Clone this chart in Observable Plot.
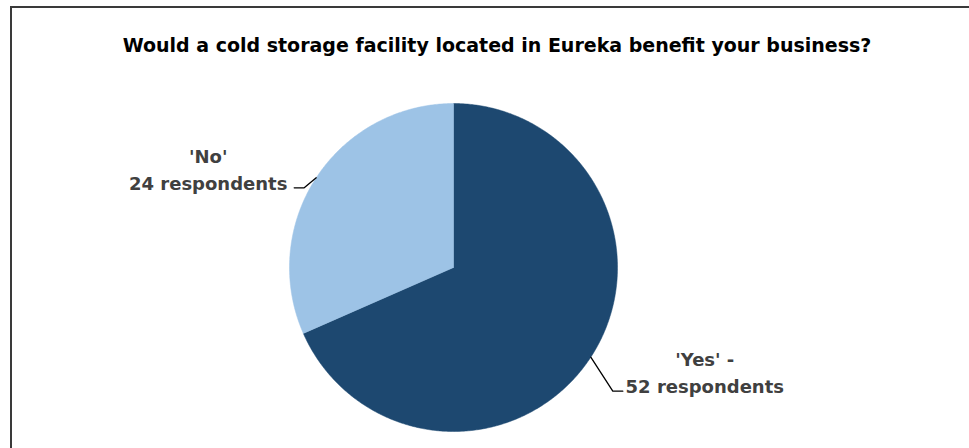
<!DOCTYPE html>
<html><head><meta charset="utf-8">
<script src="https://cdn.jsdelivr.net/npm/d3@7"></script>
<script src="https://cdn.jsdelivr.net/npm/@observablehq/plot@0.6"></script>
<style>
body{margin:0;background:#fff;}
#wrap{position:relative;width:969px;height:448px;overflow:hidden;font-family:"DejaVu Sans",sans-serif;}
#frame{position:absolute;left:10px;top:6px;width:980px;height:470px;border-left:2px solid #3a3a3a;border-top:2px solid #3a3a3a;}
#title{position:absolute;left:0;width:994px;top:34px;text-align:center;font-weight:bold;font-size:19px;color:#000;}
#chart{position:absolute;left:0;top:0;}
</style></head>
<body><div id="wrap"><div id="frame"></div><div id="title"></div><div id="chart"></div></div>
<script>
const titleText = "Would a cold storage facility located in Eureka benefit your business?";
const categories = ["Yes", "No"];
const values = [52, 24];
const labels = ["'Yes' -\n52 respondents", "'No'\n24 respondents"];
const colors = ["#1D4870", "#9DC3E6"];

document.getElementById("title").textContent = titleText;

const W = 969, H = 448, R = 164, CX = 453, CY = 267;
const total = d3.sum(values);
let start = 0;
const slices = categories.map((c, i) => {
  const a0 = start, a1 = start + values[i] / total * 2 * Math.PI;
  start = a1;
  return {category: c, a0, a1, mid: (a0 + a1) / 2, label: labels[i]};
});
const pts = [];
slices.forEach(s => {
  pts.push({category: s.category, x: 0, y: 0});
  const n = Math.ceil((s.a1 - s.a0) / (Math.PI / 360));
  for (let k = 0; k <= n; k++) {
    const a = s.a0 + (s.a1 - s.a0) * k / n;
    pts.push({category: s.category, x: Math.sin(a), y: Math.cos(a)});
  }
  pts.push({category: s.category, x: 0, y: 0});
});
// leader layout (pixel offsets from edge point at mid angle)
const leaderLayout = {
  Yes: {pts: [[0,0],[22,34],[32,34]], text: [114, 14]},
  No: {pts: [[0,0],[-12,10],[-22,10]], text: [-108, -10]}
};
const leaders = [];
const textPts = [];
slices.forEach(s => {
  const ex = Math.sin(s.mid), ey = Math.cos(s.mid);
  const L = leaderLayout[s.category];
  L.pts.forEach(([dx, dy]) => leaders.push({category: s.category, x: ex + dx / R, y: ey - dy / R}));
  textPts.push({label: s.label, x: ex + L.text[0] / R, y: ey - L.text[1] / R});
});

const chart = Plot.plot({
  width: W, height: H,
  margin: 0,
  x: {domain: [-CX / R, (W - CX) / R], axis: null},
  y: {domain: [(CY - H) / R, CY / R], axis: null},
  color: {domain: categories, range: colors},
  marks: [
    Plot.line(pts, {x: "x", y: "y", z: "category", fill: "category", stroke: "category", strokeWidth: 0.5, curve: "linear"}),
    Plot.line(leaders, {x: "x", y: "y", z: "category", stroke: "#000", strokeWidth: 1.3}),
    Plot.text(textPts, {x: "x", y: "y", text: "label", fontSize: 18, fontWeight: "bold", fill: "#404040", lineHeight: 1.48, textAnchor: "middle", fontFamily: "DejaVu Sans"})
  ]
});
document.getElementById("chart").appendChild(chart);
</script>
</body></html>
